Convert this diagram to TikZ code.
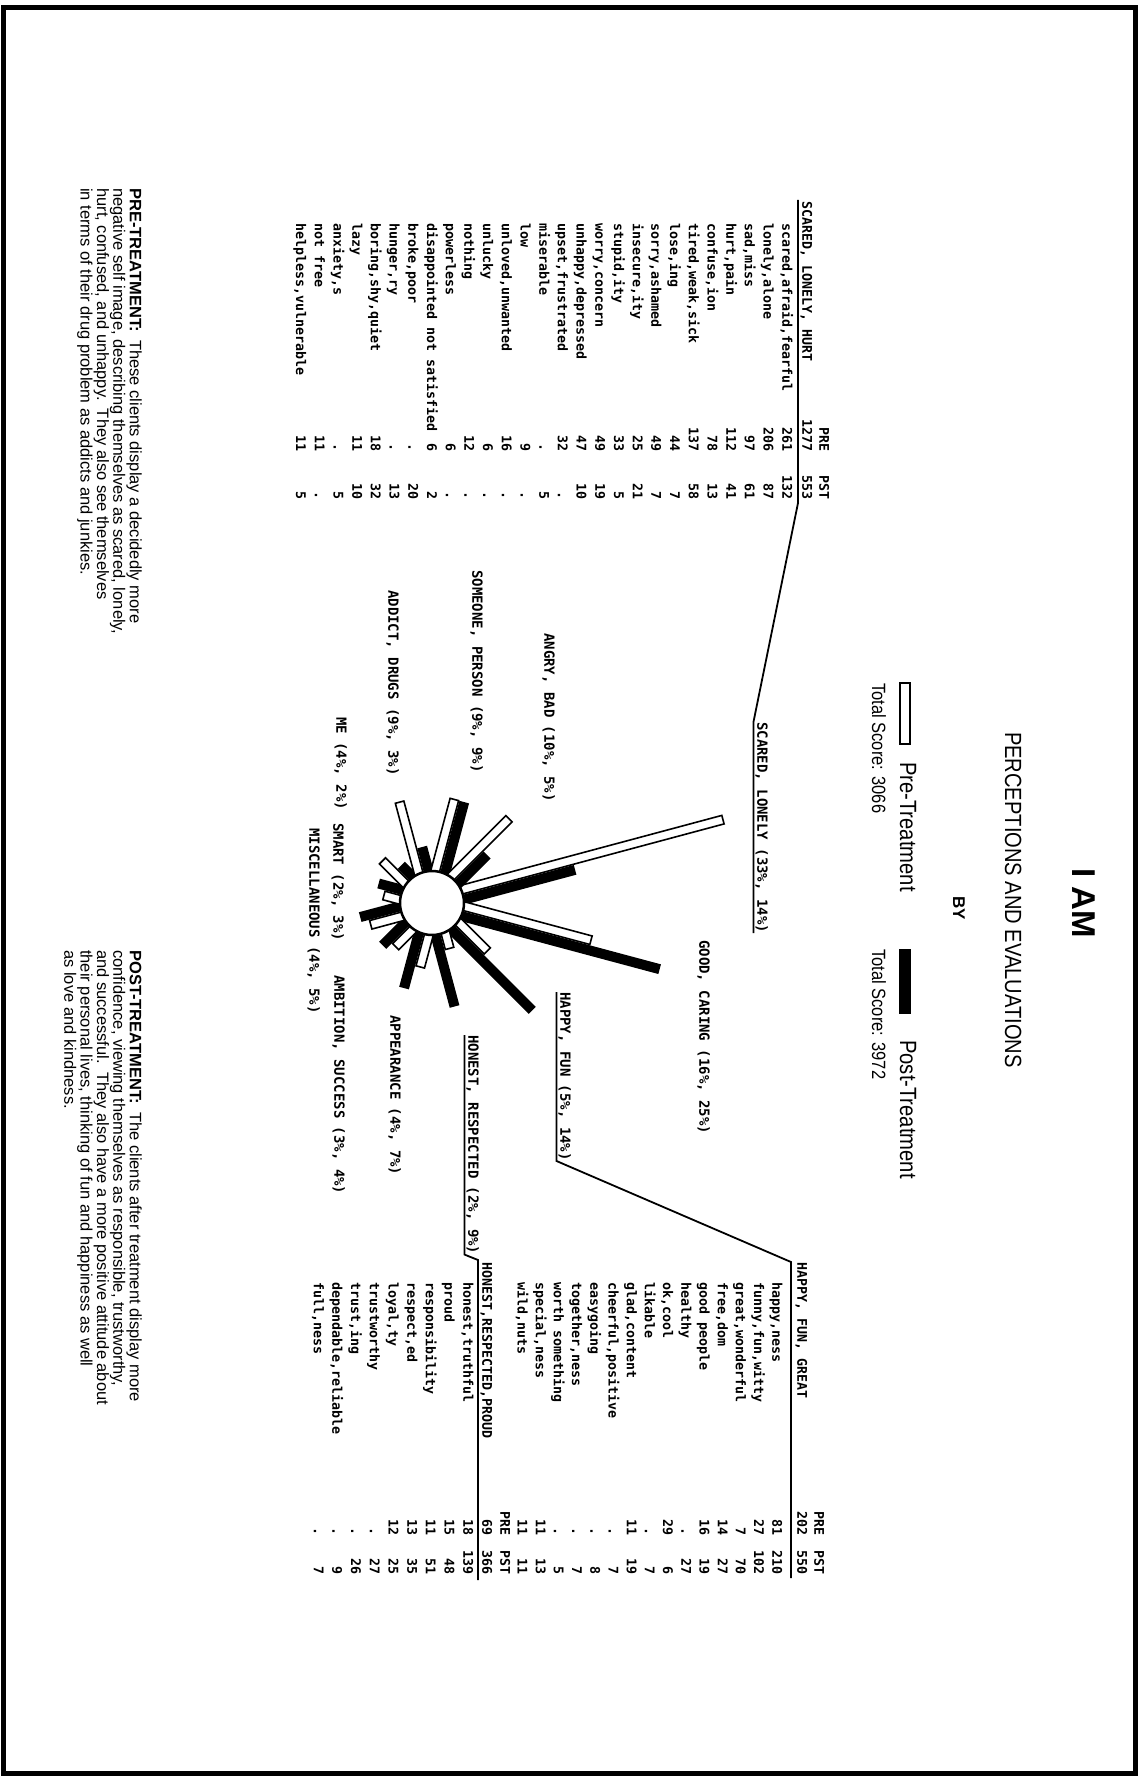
\documentclass[tikz,border=0pt]{standalone}
\usepackage{fontspec}
\setmainfont{Liberation Sans}
\newfontfamily\monofont{DejaVu Sans Mono}
\newfontfamily\condfont[FakeStretch=0.86]{Liberation Sans}
\begin{document}
\begin{tikzpicture}[x=1pt,y=1pt,
  lab/.style={font={\monofont\bfseries\fontsize{14}{16}\selectfont}, rotate=-90, anchor=mid west, inner sep=0pt},
  ulab/.style={lab, inner ysep=1.5pt, text depth=0.22em},
  rowtxt/.style={font={\monofont\bfseries\fontsize{13.3}{15}\selectfont}, rotate=-90, anchor=mid west, inner sep=0pt},
  rownum/.style={rowtxt, anchor=mid east},
  ttl/.style={rotate=-90, inner sep=0pt, anchor=base},
  legtxt/.style={rotate=-90, inner sep=0pt, anchor=base west},
  para/.style={rotate=-90, anchor=north west, inner sep=0pt, align=left, font={\fontsize{16.5}{15}\selectfont}},
  conn/.style={line width=1.8pt},
  wbar/.style={fill=white, draw=black, line width=1.6pt},
]
\useasboundingbox (0,0) rectangle (1145,-1776);
\draw[line width=5pt] (3,-8) rectangle (1135,-1773);

% ---------- title and legend ----------
\node[ttl, font={\bfseries\fontsize{33}{36}\selectfont}] (tiam) at (1072,-903) {I AM};
\node[ttl, font={\condfont\fontsize{23.4}{26}\selectfont}] (tper) at (1005,-900) {PERCEPTIONS AND EVALUATIONS};
\node[ttl, font={\bfseries\fontsize{17}{19}\selectfont}] (tby) at (953,-908) {BY};
\draw[wbar] (900,-683) rectangle (910,-744);
\fill[black] (899,-949) rectangle (911,-1014);
\node[legtxt, font={\condfont\fontsize{23.5}{26}\selectfont}] (tpre) at (900,-762) {Pre-Treatment};
\node[legtxt, font={\condfont\fontsize{23.5}{26}\selectfont}] (tpost) at (900,-1040) {Post-Treatment};
\node[legtxt, font={\condfont\fontsize{19.2}{21}\selectfont}] (tspre) at (872,-683) {Total Score: 3066};
\node[legtxt, font={\condfont\fontsize{19.2}{21}\selectfont}] (tspost) at (872,-949) {Total Score: 3972};

% ---------- SCARED table ----------
\node[rowtxt] (sh) at (805,-201) {SCARED, LONELY, HURT};
\node[rownum] (shp) at (805,-452) {1277};
\node[rownum] (shq) at (805,-500) {553};
\node[rownum] (scp) at (822,-452) {PRE};
\node[rownum] (scq) at (822,-500) {PST};
\foreach \t/\p/\q [count=\i] in {{scared,afraid,fearful}/261/132,{lonely,alone}/206/87,{sad,miss}/97/61,{hurt,pain}/112/41,{confuse,ion}/78/13,{tired,weak,sick}/137/58,{lose,ing}/44/7,{sorry,ashamed}/49/7,{insecure,ity}/25/21,{stupid,ity}/33/5,{worry,concern}/49/19,{unhappy,depressed}/47/10,{upset,frustrated}/32/.,miserable/./5,low/9/.,{unloved,unwanted}/16/.,unlucky/6/.,nothing/12/.,powerless/6/.,disappointed not satisfied/6/2,{broke,poor}/./20,{hunger,ry}/./13,{boring,shy,quiet}/18/32,lazy/11/10,{anxiety,s}/./5,not free/11/.,{helpless,vulnerable}/11/5}{
  \node[rowtxt] (sr\i) at ({785-(\i-1)*18.7},-223) {\t};
  \node[rownum] (sp\i) at ({785-(\i-1)*18.7},-452) {\p};
  \node[rownum] (sq\i) at ({785-(\i-1)*18.7},-500) {\q};
}
\coordinate (us1) at (798,-200);
\coordinate (us2) at (798,-503);

% ---------- HAPPY table ----------
\node[rowtxt] (hh) at (800,-1262) {HAPPY, FUN, GREAT};
\node[rownum] (hhp) at (800,-1536) {202};
\node[rownum] (hhq) at (800,-1575) {550};
\node[rownum] (hcp) at (817,-1536) {PRE};
\node[rownum] (hcq) at (817,-1575) {PST};
\foreach \t/\p/\q [count=\i] in {{happy,ness}/81/210,{funny,fun,witty}/27/102,{great,wonderful}/7/70,{free,dom}/14/27,good people/16/19,healthy/./27,{ok,cool}/29/6,likable/./7,{glad,content}/11/19,{cheerful,positive}/./7,easygoing/./8,{together,ness}/./7,worth something/./5,{special,ness}/11/13,{wild,nuts}/11/11}{
  \node[rowtxt] (hr\i) at ({775-(\i-1)*18.2},-1282) {\t};
  \node[rownum] (hp\i) at ({775-(\i-1)*18.2},-1536) {\p};
  \node[rownum] (hq\i) at ({775-(\i-1)*18.2},-1575) {\q};
}
\coordinate (uh1) at (791,-1262);
\coordinate (uh2) at (791,-1578);

% ---------- HONEST table ----------
\node[rowtxt] (oh) at (485,-1262) {HONEST,RESPECTED,PROUD};
\node[rownum] (ohp) at (485,-1536) {69};
\node[rownum] (ohq) at (485,-1575) {366};
\node[rownum] (ocp) at (503,-1536) {PRE};
\node[rownum] (ocq) at (503,-1575) {PST};
\foreach \t/\p/\q [count=\i] in {{honest,truthful}/18/139,proud/15/48,responsibility/11/51,{respect,ed}/13/35,{loyal,ty}/12/25,trustworthy/./27,{trust,ing}/./26,{dependable,reliable}/./9,{full,ness}/./7}{
  \node[rowtxt] (or\i) at ({466-(\i-1)*18.7},-1282) {\t};
  \node[rownum] (op\i) at ({466-(\i-1)*18.7},-1536) {\p};
  \node[rownum] (oq\i) at ({466-(\i-1)*18.7},-1575) {\q};
}
\coordinate (uo1) at (478,-1260);
\coordinate (uo2) at (478,-1580);

% ---------- rays ----------
\coordinate (cc) at (432,-903);
\foreach \ang/\p/\q in {15/33/14,-15/16/25,-45/5/14,-75/2/9,-105/4/7,-135/3/4,-165/4/5,165/2/3,135/4/2,105/9/3,75/9/9,45/10/5}{
  \pgfmathsetmacro\lp{32+8.2*\p}
  \pgfmathsetmacro\lq{32+8.2*\q}
  \begin{scope}[shift={(cc)}, rotate=\ang]
    \draw[wbar] (0,0.8) rectangle (\lp,9.6);
    \fill[black] (0,-10) rectangle (\lq,0);
  \end{scope}
}
\node[circle, draw, fill=white, line width=2.5pt, minimum size=64pt, inner sep=0pt] (hub) at (cc) {};

% ---------- labels ----------
\node[ulab] (ls) at (760,-722) {SCARED, LONELY (33\%, 14\%)};
\node[lab] (lg) at (702,-940) {GOOD, CARING (16\%, 25\%)};
\node[ulab] (lh) at (563,-992) {HAPPY, FUN (5\%, 14\%)};
\node[ulab] (lo) at (471,-1035) {HONEST, RESPECTED (2\%, 9\%)};
\node[lab] (lap) at (393,-1015) {APPEARANCE (4\%, 7\%)};
\node[lab] (lam) at (337,-975) {AMBITION, SUCCESS (3\%, 4\%)};
\node[lab] (lmi) at (312,-828) {MISCELLANEOUS (4\%, 5\%)};
\node[lab] (lsm) at (336,-823) {SMART (2\%, 3\%)};
\node[lab] (lme) at (339,-717) {ME (4\%, 2\%)};
\node[lab] (lad) at (391,-590) {ADDICT, DRUGS (9\%, 3\%)};
\node[lab] (lso) at (475,-570) {SOMEONE, PERSON (9\%, 9\%)};
\node[lab] (lan) at (547,-633) {ANGRY, BAD (10\%, 5\%)};

% ---------- connectors ----------
\draw[conn] (ls.south east) -- (ls.south west) -- (us2) -- (us1);
\draw[conn] (lh.south west) -- (lh.south east) -- (uh1) -- (uh2);
\draw[conn] (lo.south west) -- (lo.south east) -- (uo1) -- (uo2);

% ---------- paragraphs ----------
\node[para] (ppre) at (142,-188) {\textbf{PRE-TREATMENT:}\enspace These clients display a decidedly more\\
negative self image, describing themselves as scared, lonely,\\
hurt, confused, and unhappy.\enspace They also see themselves\\
in terms of their drug problem as addicts and junkies.};
\node[para] (ppost) at (142,-950) {\textbf{POST-TREATMENT:}\enspace The clients after treatment display more\\
confidence, viewing themselves as responsible, trustworthy,\\
and successful.\enspace They also have a more positive attitude about\\
their personal lives, thinking of fun and happiness as well\\
as love and kindness.};
\end{tikzpicture}
\end{document}
